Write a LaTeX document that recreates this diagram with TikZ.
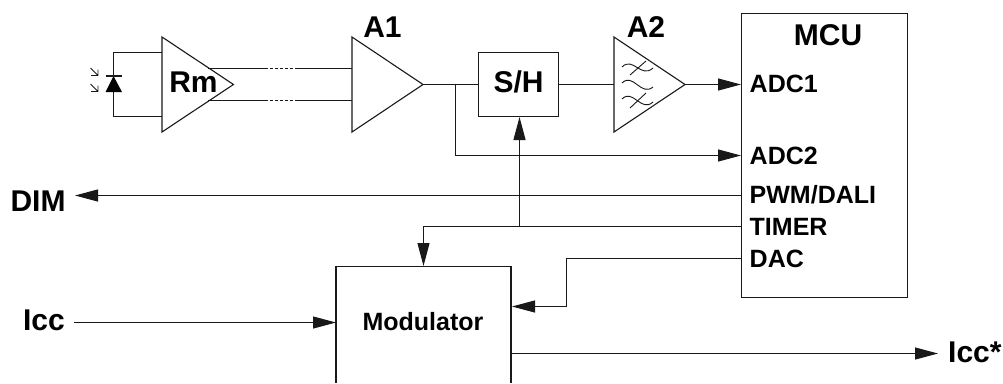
\documentclass[tikz,border=0pt]{standalone}
\usepackage{fontspec}
\setmainfont{Liberation Sans}
\usetikzlibrary{arrows.meta}
\tikzset{
  x=1pt,y=-1pt,
  wire/.style={line width=1.1pt,draw=black!90},
  arr/.style={wire,-{Triangle[length=23pt,width=12pt]}},
  ampbox/.style={minimum width=#1,minimum height=95pt,inner sep=0pt,outer sep=0pt},
  lab/.style={inner sep=0pt,anchor=base,font=\bfseries\fontsize{#1}{#1}\selectfont},
  lab/.default=30,
  pin/.style={lab=25,anchor=base west},
  thin wire/.style={line width=.9pt,draw=black!90},
}
\begin{document}
\begin{tikzpicture}
\useasboundingbox (0,0) rectangle (1003,383);
% amplifiers
\node[ampbox=71.5pt] (rm) at (197.75,84.5) {};
\node[ampbox=71pt] (a1) at (387.5,84.5) {};
\node[ampbox=71pt] (a2) at (649.5,84.5) {};
\foreach \n in {rm,a1,a2}
  \draw[wire,line join=miter] (\n.north west) -- (\n.east) -- (\n.south west) -- cycle;
\node[lab] (rmt) at (193.5,92) {Rm};
\node[lab] (a1t) at (382.5,37) {A1};
\node[lab] (a2t) at (646,37) {A2};
% boxes
\node[wire,draw,minimum width=80pt,minimum height=64pt,inner sep=0pt,outer sep=0pt] (sh) at (518.5,84.5) {};
\node[lab] (sht) at (518.5,92) {S/H};
\node[wire,draw,minimum width=166pt,minimum height=284pt,inner sep=0pt,outer sep=0pt] (mcu) at (824.5,155.5) {};
\node[lab] (mcut) at (828,45) {MCU};
% MCU pins
\coordinate (p1) at (741,84.5);
\coordinate (p2) at (741,155.5);
\coordinate (p3) at (741,195.5);
\coordinate (p4) at (741,226.5);
\coordinate (p5) at (741,258.5);
\node[pin] (adc1) at (749.5,92) {ADC1};
\node[pin] (adc2) at (749.5,164) {ADC2};
\node[pin] (pwm) at (749.5,203) {PWM/DALI};
\node[pin] (tim) at (749.5,235) {TIMER};
\node[pin] (dac) at (749.5,267) {DAC};
% modulator, open at the bottom
\coordinate (mtl) at (336,266.5);
\coordinate (mtr) at (511,266.5);
\coordinate (mbl) at (336,383);
\coordinate (mbr) at (511,383);
\draw[wire] (mbl) -- (mtl) -- (mtr) -- (mbr);
\node[lab=25] (mod) at (423,330) {Modulator};
% photodiode
\coordinate (dt) at (113.5,76);
\coordinate (db) at (113.5,92);
\coordinate (r1) at (162,52.5);
\coordinate (r2) at (162,116.5);
\draw[wire] (r1) -- (113.5,52.5) -- (dt);
\draw[wire] (r2) -- (113.5,116.5) -- (db);
\fill[black] (dt) -- (122,92) -- (105.5,92) -- cycle;
\draw[wire] (105.5,76) -- (122,76);
\foreach \y in {68,84}{
  \draw[thin wire] (90.5,\y) -- (98,\y+7.5) (98,\y+1.5) -- (98,\y+7.5) -- (91,\y+7.5);
}
% differential link
\foreach \y/\k in {68.5/u,100.5/d}{
  \coordinate (l\k) at (208,\y);
  \coordinate (e\k) at (352,\y);
  \draw[wire] (l\k) -- (265,\y);
  \draw[wire,dash pattern=on 2.5pt off 2.5pt] (265,\y) -- (297,\y);
  \draw[wire] (297,\y) -- (e\k);
}
% chain
\draw[wire] (a1.east) -- (sh.west);
\draw[wire] (sh.east) -- (a2.west);
\draw[arr] (a2.east) -- (p1);
\draw[arr] (455.5,84.5) -- (455.5,155.5) -- (p2);
\draw[arr] (519.5,226.5) -- (519.5,117);
\draw[arr] (p3) -- (75,195.5);
\draw[arr] (p4) -- (423.5,226.5) -- (423.5,266);
\draw[arr] (p5) -- (566.5,258.5) -- (566.5,306.5) -- (512,306.5);
% filter symbol
\draw[thin wire] (622,67) .. controls (633,56) and (641,79) .. (653,68);
\draw[thin wire] (622,83) .. controls (633,72) and (641,97) .. (653,87);
\draw[thin wire] (622,99) .. controls (633,88) and (641,113) .. (653,102);
\draw[thin wire] (630,75) -- (646,61);
\draw[thin wire] (630,108) -- (646,93);
% outside signals
\node[lab] (dim) at (38,211) {DIM};
\node[lab,anchor=base east] (icc) at (65,330) {Icc};
\node[lab,anchor=base west] (iccs) at (948,362) {Icc*};
\draw[arr] (74,322.5) -- (mtl |- 0,322.5);
\draw[arr] (511,353.5) -- (938,353.5);
\end{tikzpicture}
\end{document}
